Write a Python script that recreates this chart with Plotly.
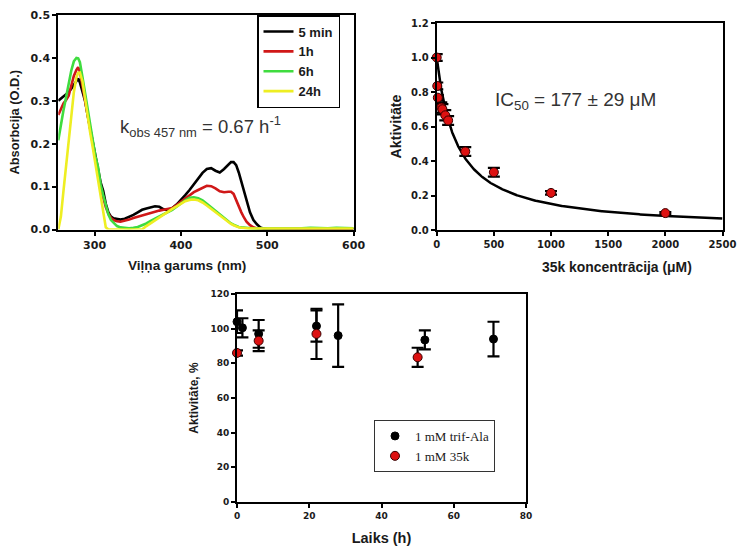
import numpy as np
import plotly.graph_objects as go

# ---------------- Panel A: UV-Vis spectra ----------------
wavelength_nm = [258, 261, 264, 267, 270, 273, 276, 279, 281, 283,
                 286, 289, 292, 295, 298, 301, 304, 307, 310, 313,
                 316, 319, 322, 326, 330, 335, 340, 345, 350, 355,
                 360, 365, 370, 375, 380, 385, 390, 395, 400, 405,
                 410, 415, 420, 425, 430, 435, 440, 445, 450, 455,
                 458, 461, 464, 467, 470, 473, 476, 480, 484, 488,
                 492, 496, 500, 510, 520, 530, 540, 550, 560, 570,
                 580, 590, 600]

abs_5min = [0.300, 0.305, 0.308, 0.314, 0.320, 0.328, 0.338, 0.348, 0.352, 0.343,
            0.322, 0.300, 0.266, 0.235, 0.205, 0.175, 0.140, 0.110, 0.090, 0.060,
            0.040, 0.030, 0.026, 0.024, 0.023, 0.025, 0.029, 0.034, 0.040, 0.046,
            0.049, 0.051, 0.054, 0.053, 0.047, 0.045, 0.050, 0.058, 0.068, 0.080,
            0.092, 0.105, 0.120, 0.132, 0.141, 0.143, 0.137, 0.133, 0.141, 0.152,
            0.157, 0.157, 0.150, 0.133, 0.110, 0.088, 0.068, 0.040, 0.022, 0.012,
            0.005, 0.002, 0.001, 0.001, 0.001, 0.001, 0.001, 0.001, 0.001, 0.001,
            0.001, 0.001, 0.001]

abs_1h = [0.267, 0.282, 0.294, 0.302, 0.312, 0.335, 0.358, 0.372, 0.378, 0.368,
          0.335, 0.300, 0.262, 0.228, 0.195, 0.165, 0.130, 0.098, 0.075, 0.052,
          0.037, 0.027, 0.022, 0.019, 0.018, 0.020, 0.023, 0.027, 0.030, 0.033,
          0.036, 0.039, 0.041, 0.044, 0.046, 0.048, 0.050, 0.057, 0.065, 0.072,
          0.081, 0.087, 0.092, 0.098, 0.102, 0.101, 0.096, 0.089, 0.087, 0.088,
          0.088, 0.083, 0.068, 0.052, 0.040, 0.028, 0.018, 0.010, 0.005, 0.003,
          0.001, 0.001, 0.001, 0.001, 0.001, 0.001, 0.001, 0.001, 0.001, 0.001,
          0.001, 0.001, 0.001]

abs_6h = [0.208, 0.245, 0.278, 0.308, 0.340, 0.370, 0.392, 0.400, 0.399, 0.390,
          0.355, 0.317, 0.280, 0.240, 0.200, 0.170, 0.146, 0.105, 0.080, 0.055,
          0.035, 0.022, 0.015, 0.008, 0.005, 0.004, 0.003, 0.004, 0.006, 0.010,
          0.014, 0.020, 0.025, 0.030, 0.035, 0.041, 0.046, 0.053, 0.061, 0.068,
          0.074, 0.075, 0.073, 0.068, 0.060, 0.052, 0.044, 0.035, 0.026, 0.018,
          0.014, 0.011, 0.008, 0.006, 0.005, 0.004, 0.003, 0.003, 0.002, 0.002,
          0.002, 0.002, 0.003, 0.002, 0.003, 0.002, 0.003, 0.004, 0.003, 0.003,
          0.004, 0.003, 0.003]

abs_24h = [0.000, 0.030, 0.090, 0.150, 0.215, 0.270, 0.320, 0.355, 0.365, 0.366,
           0.345, 0.305, 0.262, 0.225, 0.190, 0.155, 0.120, 0.085, 0.045, 0.005,
           0.000, 0.000, 0.000, 0.000, 0.000, 0.000, 0.000, 0.000, 0.000, 0.000,
           0.008, 0.015, 0.022, 0.029, 0.035, 0.042, 0.048, 0.054, 0.060, 0.066,
           0.069, 0.070, 0.068, 0.063, 0.056, 0.048, 0.040, 0.032, 0.024, 0.017,
           0.013, 0.010, 0.007, 0.005, 0.004, 0.003, 0.002, 0.002, 0.002, 0.002,
           0.002, 0.002, 0.002, 0.003, 0.002, 0.003, 0.002, 0.003, 0.002, 0.003,
           0.002, 0.003, 0.002]

spectra_labels = ["5 min", "1h", "6h", "24h"]
spectra_colors = ["#000000", "#d01818", "#3fdc3f", "#eeee22"]

# ---------------- Panel B: dose response ----------------
conc_uM = [0, 5, 10, 40, 50, 75, 100, 250, 500, 1000, 2000]
activity = [1.00, 0.835, 0.767, 0.71, 0.70, 0.665, 0.635, 0.455, 0.335, 0.215, 0.098]
activity_err = [0.02, 0.02, 0.015, 0.03, 0.03, 0.03, 0.025, 0.025, 0.025, 0.01, 0.006]
IC50_uM = 177
IC50_err = 29

# ---------------- Panel C: stability over time ----------------
time_trif = [0, 1.5, 6, 22, 28, 52, 71]
act_trif = [104, 100.5, 97, 101.5, 96, 93.5, 94]
err_trif = [6.5, 5.5, 8, 9, 18, 5.5, 10]

time_35k = [0, 6, 22, 50]
act_35k = [86, 93, 97, 83.5]
err_35k = [1.5, 6, 14.5, 5.5]

W, H = 738, 549


def px_x(p):
    return p / W


def px_y(p):
    return 1 - p / H


def tick_font(size):
    return dict(family="DejaVu Sans", size=size, color="#1a1a1a", weight="bold")


def title_font(size):
    return dict(family="Liberation Sans, Arial", size=size, color="#1a1a1a", weight="bold")


def axis_style(tsize, **kw):
    d = dict(showline=True, mirror=True, linecolor="black", linewidth=2,
             ticks="outside", ticklen=4, tickwidth=2, tickcolor="black",
             showgrid=False, zeroline=False, tickfont=tick_font(tsize),
             automargin=False, ticklabeloverflow="allow")
    d.update(kw)
    return d


def axis_title(text, size, standoff):
    return dict(text=text, font=title_font(size), standoff=standoff)


fig = go.Figure()

# Spectra
for lab, col, ys in zip(spectra_labels, spectra_colors, [abs_5min, abs_1h, abs_6h, abs_24h]):
    fig.add_trace(go.Scatter(x=wavelength_nm, y=ys, mode="lines", name=lab,
                             line=dict(color=col, width=2.6),
                             xaxis="x", yaxis="y", legend="legend"))

# Dose-response fit curve from the reported IC50
conc_fit = np.linspace(0, 2500, 600)
act_fit = 1.0 / (1.0 + conc_fit / IC50_uM)
fig.add_trace(go.Scatter(x=conc_fit, y=act_fit, mode="lines",
                         line=dict(color="black", width=2.5), showlegend=False,
                         xaxis="x2", yaxis="y2"))
fig.add_trace(go.Scatter(x=conc_uM, y=activity, mode="markers", showlegend=False,
                         marker=dict(color="#dd1111", size=9, line=dict(color="#3a0000", width=1)),
                         error_y=dict(type="data", array=activity_err, color="black",
                                      thickness=2.2, width=6),
                         cliponaxis=False, xaxis="x2", yaxis="y2"))

# Stability
fig.add_trace(go.Scatter(x=time_trif, y=act_trif, mode="markers", name="1 mM trif-Ala",
                         marker=dict(color="black", size=8, line=dict(color="black", width=1)),
                         error_y=dict(type="data", array=err_trif, color="black",
                                      thickness=2.2, width=6),
                         cliponaxis=False, xaxis="x3", yaxis="y3", legend="legend2"))
fig.add_trace(go.Scatter(x=time_35k, y=act_35k, mode="markers", name="1 mM 35k",
                         marker=dict(color="#dd1111", size=9, line=dict(color="#3a0000", width=1)),
                         error_y=dict(type="data", array=err_35k, color="black",
                                      thickness=2.2, width=6),
                         cliponaxis=False, xaxis="x3", yaxis="y3", legend="legend2"))

fig.update_layout(
    width=W, height=H,
    margin=dict(l=0, r=0, t=0, b=0, autoexpand=False),
    paper_bgcolor="white", plot_bgcolor="white",
    xaxis=axis_style(11, domain=[px_x(58.3), px_x(353.6)], range=[258, 600],
                     tick0=300, dtick=100, anchor="y"),
    yaxis=axis_style(11, domain=[px_y(229.5), px_y(15)], range=[0, 0.5],
                     dtick=0.1, tickformat=".1f", anchor="x",
                     title=axis_title("Absorbcija (O.D.)", 12.8, 8)),
    xaxis2=axis_style(10, domain=[px_x(436.7), px_x(722.5)], range=[0, 2500],
                      dtick=500, anchor="y2"),
    yaxis2=axis_style(10, domain=[px_y(230), px_y(23)], range=[0, 1.2],
                      dtick=0.2, tickformat=".1f", anchor="x2",
                      title=axis_title("Aktivitāte", 14.2, 6)),
    xaxis3=axis_style(9, domain=[px_x(237), px_x(526)], range=[0, 80],
                      dtick=20, anchor="y3",
                      title=axis_title("Laiks (h)", 14.5, 13)),
    yaxis3=axis_style(9, domain=[px_y(502), px_y(294)], range=[0, 120],
                      dtick=20, anchor="x3",
                      title=axis_title("Aktivitāte, %", 12, 9)),
    legend=dict(x=px_x(257), y=px_y(15), xanchor="left", yanchor="top",
                bordercolor="black", borderwidth=1.5, bgcolor="white",
                font=dict(family="Liberation Sans, Arial", size=13, color="#1a1a1a", weight="bold"),
                tracegroupgap=0, itemwidth=30),
    legend2=dict(x=px_x(374), y=px_y(420), xanchor="left", yanchor="top",
                 bordercolor="#333", borderwidth=1, bgcolor="white",
                 font=dict(family="Liberation Serif, Times New Roman", size=13, color="#1a1a1a"),
                 itemwidth=30),
    showlegend=True,
)

# x-axis titles of the two upper panels sit off-centre, so they are placed as annotations
ann = []
for text, ax, ay, fs in [("Viļņa garums (nm)", 187, 266, 13.6),
                         ("35k koncentrācija (μM)", 617, 267, 13.9)]:
    ann.append(dict(text=text, x=px_x(ax), y=px_y(ay),
                    xref="paper", yref="paper", showarrow=False, xanchor="center",
                    yanchor="middle", font=title_font(fs)))

ann += [
    dict(text="k<sub>obs 457 nm</sub> = 0.67 h<sup>-1</sup>", x=px_x(118), y=px_y(127),
         xref="paper", yref="paper", showarrow=False, xanchor="left", yanchor="middle",
         font=dict(family="Liberation Sans, Arial", size=18.5, color="#333333")),
    dict(text=f"IC<sub>50</sub> = {IC50_uM} ± {IC50_err} μM", x=px_x(493), y=px_y(101),
         xref="paper", yref="paper", showarrow=False, xanchor="left", yanchor="middle",
         font=dict(family="Liberation Sans, Arial", size=19, color="#333333")),
]
fig.update_layout(annotations=ann)

fig.write_html("out.html")
